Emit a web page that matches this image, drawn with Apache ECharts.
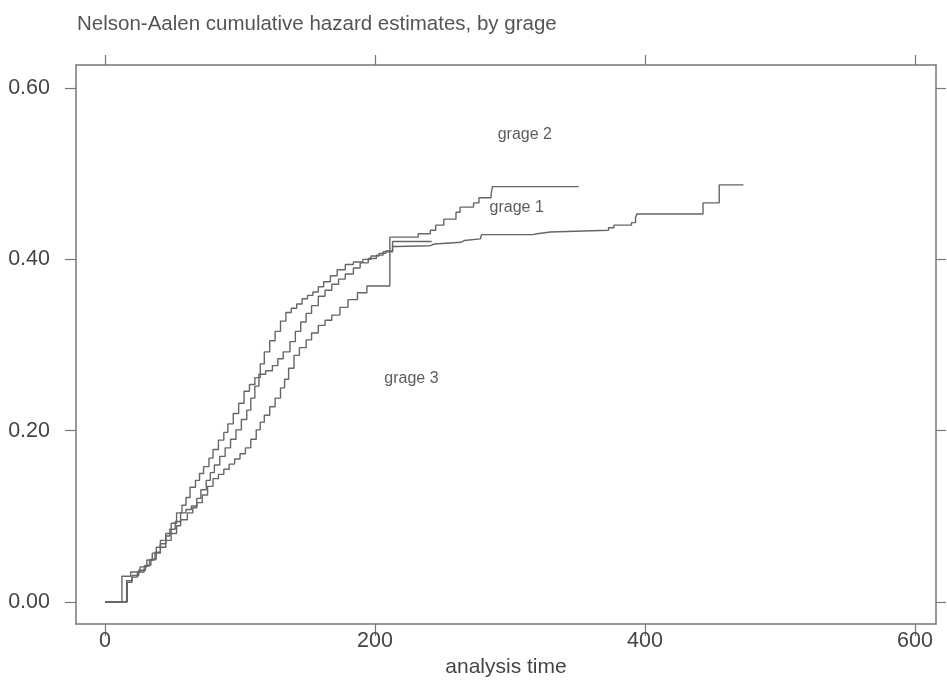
<!DOCTYPE html>
<html>
<head>
<meta charset="utf-8">
<script src="https://cdn.jsdelivr.net/npm/echarts@6/dist/echarts.min.js"></script>
<style>
html,body{margin:0;padding:0;background:#fff;}
#chart{width:947px;height:682px;}
</style>
</head>
<body>
<div id="chart"></div>
<script>
const titleText = 'Nelson-Aalen cumulative hazard estimates, by grage';
const xAxisName = 'analysis time';
const xTicks = [0, 200, 400, 600];
const yTicks = [0, 0.2, 0.4, 0.6];

// [analysis time, cumulative hazard] step points
const curveP = [
  [0,0],[12.5,0.030],[19,0.035],[26,0.041],[31,0.049],[35,0.057],[38,0.064],[41,0.072],
  [45,0.080],[49,0.092],[53,0.104],[57,0.113],[60,0.122],[63,0.134],[67,0.142],[70,0.150],
  [73,0.158],[77,0.168],[80,0.178],[84,0.189],[88,0.198],[91,0.208],[95,0.220],[99,0.232],
  [103,0.246],[107,0.254],[111,0.262],[115,0.278],[118,0.292],[122,0.305],[126,0.316],
  [130,0.328],[134,0.338],[138,0.343],[142,0.348],[146,0.354],[150,0.358],[154,0.362],
  [158,0.368],[162,0.374],[167,0.381],[172,0.388],[178,0.394],[184,0.397],[191,0.400],
  [197,0.404],[203,0.407],[208,0.410],[213,0.415],[216,0.416],[241,0.418],[244,0.420],
  [264,0.422],[266,0.424],[278,0.426],[279,0.429],[317,0.430],[320,0.432],[330,0.434],
  [373,0.437],[377,0.440],[390,0.443],[393,0.449],[394,0.453],[443,0.466],[455,0.487],[473,0.487]
];
const curveQ = [
  [0,0],[16,0.025],[20,0.031],[25,0.037],[30,0.043],[34,0.050],[38,0.057],[41,0.064],
  [45,0.072],[49,0.080],[53,0.089],[56,0.096],[61,0.104],[65,0.110],[68,0.121],[71,0.131],
  [75,0.142],[78,0.151],[81,0.160],[85,0.170],[89,0.180],[93,0.190],[97,0.201],[101,0.213],
  [105,0.224],[108,0.238],[111,0.252],[114,0.266],[119,0.270],[124,0.276],[128,0.284],
  [132,0.292],[137,0.304],[141,0.316],[145,0.327],[149,0.337],[153,0.346],[158,0.357],
  [163,0.364],[168,0.371],[173,0.377],[178,0.383],[184,0.390],[189,0.396],[195,0.401],
  [201,0.405],[206,0.409],[213,0.421],[242,0.421]
];
const curveR = [
  [0,0],[16.5,0.023],[20,0.029],[24,0.035],[29,0.042],[33,0.049],[37,0.058],[41,0.068],
  [45,0.077],[48,0.085],[52,0.094],[56,0.104],[60,0.108],[64,0.112],[68,0.116],[72,0.125],
  [76,0.135],[80,0.144],[84,0.149],[88,0.155],[92,0.161],[96,0.167],[100,0.173],[104,0.180],
  [108,0.190],[112,0.201],[115,0.210],[118,0.218],[122,0.228],[126,0.238],[130,0.250],
  [133,0.260],[136,0.273],[140,0.288],[144,0.297],[149,0.306],[153,0.314],[158,0.323],
  [163,0.329],[168,0.335],[174,0.344],[180,0.353],[187,0.361],[194,0.369],[211,0.426],
  [232,0.430],[241,0.434],[245,0.440],[251,0.447],[260,0.455],[263,0.461],[273,0.466],
  [277,0.472],[286,0.476],[287,0.485],[351,0.485]
];
const groupLabels = ['grage 2', 'grage 1', 'grage 3'];
const labelPos = [[311, 0.546], [305, 0.460], [227, 0.261]];

const chart = echarts.init(document.getElementById('chart'));
const axisColor = '#777';
const textColor = '#444';
const font = 'Liberation Sans, Arial';
const lineStyle = {color: '#666', width: 1.4};

function lineSeries(name, data) {
  return {name, type: 'line', step: 'end', data, showSymbol: false, symbol: 'none',
          lineStyle, silent: true, animation: false, xAxisIndex: 0, yAxisIndex: 0};
}

chart.setOption({
  animation: false,
  backgroundColor: '#fff',
  title: {text: titleText, left: 72, top: 9,
    textStyle: {fontFamily: font, fontSize: 20.5, fontWeight: 'normal', color: '#555'}},
  grid: {left: 76, right: 11, top: 65, bottom: 58, containLabel: false, outerBoundsMode: 'none'},
  xAxis: [
    {type: 'value', position: 'bottom', min: -21.5, max: 615.6,
     name: xAxisName, nameLocation: 'middle', nameGap: 29,
     nameTextStyle: {fontFamily: font, fontSize: 21, color: textColor},
     axisLine: {show: true, onZero: false, lineStyle: {color: axisColor, width: 1.5}},
     axisTick: {show: true, length: 12, customValues: xTicks, lineStyle: {color: axisColor, width: 1.2}},
     axisLabel: {customValues: xTicks, margin: 6, fontFamily: font, fontSize: 21.5, color: textColor},
     splitLine: {show: false}},
    {type: 'value', position: 'top', min: -21.5, max: 615.6,
     axisLine: {show: true, onZero: false, lineStyle: {color: axisColor, width: 1.5}},
     axisTick: {show: true, length: 10, customValues: xTicks, lineStyle: {color: axisColor, width: 1.2}},
     axisLabel: {show: false}, splitLine: {show: false}}
  ],
  yAxis: [
    {type: 'value', position: 'left', min: -0.0257, max: 0.627,
     axisLine: {show: true, onZero: false, lineStyle: {color: axisColor, width: 1.5}},
     axisTick: {show: true, length: 11, customValues: yTicks, lineStyle: {color: axisColor, width: 1.2}},
     axisLabel: {customValues: yTicks, margin: 26, formatter: v => v.toFixed(2),
       fontFamily: font, fontSize: 21.5, color: textColor},
     splitLine: {show: false}},
    {type: 'value', position: 'right', min: -0.0257, max: 0.627,
     axisLine: {show: true, onZero: false, lineStyle: {color: axisColor, width: 1.5}},
     axisTick: {show: true, length: 10, customValues: yTicks, lineStyle: {color: axisColor, width: 1.2}},
     axisLabel: {show: false}, splitLine: {show: false}}
  ],
  series: [
    lineSeries('grage 1', curveR),
    lineSeries('grage 2', curveP),
    lineSeries('grage 3', curveQ),
    {type: 'scatter', symbolSize: 0, silent: true,
     data: labelPos.map((p, i) => ({value: p, name: groupLabels[i]})),
     label: {show: true, position: 'inside', formatter: p => p.name,
       fontFamily: font, fontSize: 16, color: '#333'}}
  ]
});
</script>
</body>
</html>
